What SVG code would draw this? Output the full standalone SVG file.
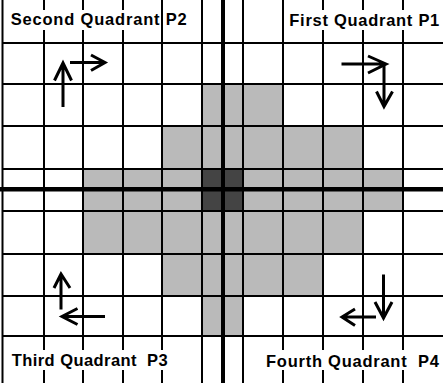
<svg xmlns="http://www.w3.org/2000/svg" width="443" height="383" viewBox="0 0 443 383">
<style>
.grid line{stroke:#000;stroke-width:2}
.lt{fill:#bababa}
.dk{fill:#444}
.axis{fill:#000}
.lbl{font-family:"Liberation Sans",Arial,sans-serif;font-weight:bold;font-size:16.5px;fill:#000}
.bg{fill:#fff}
.arr{stroke:#000;stroke-width:3;fill:none;stroke-linecap:butt;stroke-linejoin:miter}
</style>
<rect width="443" height="383" fill="#fff"/>
<g id="shading">
<rect class="lt" x="202" y="84" width="81" height="42"/>
<rect class="lt" x="162" y="126" width="201" height="43"/>
<rect class="lt" x="83" y="169" width="320" height="42"/>
<rect class="lt" x="83" y="211" width="280" height="43"/>
<rect class="lt" x="162" y="254" width="161" height="42"/>
<rect class="lt" x="202" y="296" width="41" height="40"/>
<rect class="dk" x="202" y="169" width="41" height="42"/>
</g>
<g id="grid" class="grid">
<line x1="2.5" y1="0" x2="2.5" y2="383"/>
<line x1="44" y1="0" x2="44" y2="383"/>
<line x1="83" y1="0" x2="83" y2="383"/>
<line x1="123" y1="0" x2="123" y2="383"/>
<line x1="162" y1="0" x2="162" y2="383"/>
<line x1="202" y1="0" x2="202" y2="383"/>
<line x1="243" y1="0" x2="243" y2="383"/>
<line x1="283" y1="0" x2="283" y2="383"/>
<line x1="323" y1="0" x2="323" y2="383"/>
<line x1="363" y1="0" x2="363" y2="383"/>
<line x1="403" y1="0" x2="403" y2="383"/>
<line x1="2" y1="43" x2="443" y2="43"/>
<line x1="2" y1="84" x2="443" y2="84"/>
<line x1="2" y1="126" x2="443" y2="126"/>
<line x1="2" y1="169" x2="443" y2="169"/>
<line x1="2" y1="211" x2="443" y2="211"/>
<line x1="2" y1="254" x2="443" y2="254"/>
<line x1="2" y1="296" x2="443" y2="296"/>
<line x1="2" y1="336" x2="443" y2="336"/>
</g>
<g id="axes">
<rect class="axis" x="221" y="0" width="4" height="383"/>
<rect class="axis" x="0" y="187" width="443" height="4.5"/>
</g>
<g id="label-p2">
<rect class="bg" x="7" y="10" width="154" height="20"/>
<rect class="bg" x="164" y="10" width="26" height="20"/>
<text class="lbl" x="10.7" y="25" textLength="176" lengthAdjust="spacing">Second Quadrant P2</text>
</g>
<g id="label-p1">
<rect class="bg" x="286" y="10" width="157" height="20"/>
<text class="lbl" x="289.3" y="26" textLength="150" lengthAdjust="spacing">First Quadrant P1</text>
</g>
<g id="label-p3">
<rect class="bg" x="8" y="350" width="164" height="20"/>
<text class="lbl" x="11.7" y="366" xml:space="preserve" textLength="156" lengthAdjust="spacing">Third Quadrant  P3</text>
</g>
<g id="label-p4">
<rect class="bg" x="262" y="350" width="181" height="20"/>
<text class="lbl" x="266" y="367" xml:space="preserve" textLength="173" lengthAdjust="spacing">Fourth Quadrant  P4</text>
</g>
<g id="connectors" class="arr">
<path d="M63 107V63M54.5 80.5L63 63L71.5 80.5"/>
<path d="M70 62.5H105M91 55L105 62.5L91 70.5"/>
<path d="M341.5 64H386M368 56L386 64L368 73"/>
<path d="M384 66V106M376.5 91.5L384 106.5L392.5 91.5"/>
<path d="M61 309.5V274M54 288L61 274L70 288"/>
<path d="M105 316.5H62M77.5 308.5L62 316.5L77.5 324.5"/>
<path d="M383.5 274.5V318M375 302L383.5 318L392 302"/>
<path d="M376 317H342M355 309L342 317L355 325.5"/>
</g>
</svg>
